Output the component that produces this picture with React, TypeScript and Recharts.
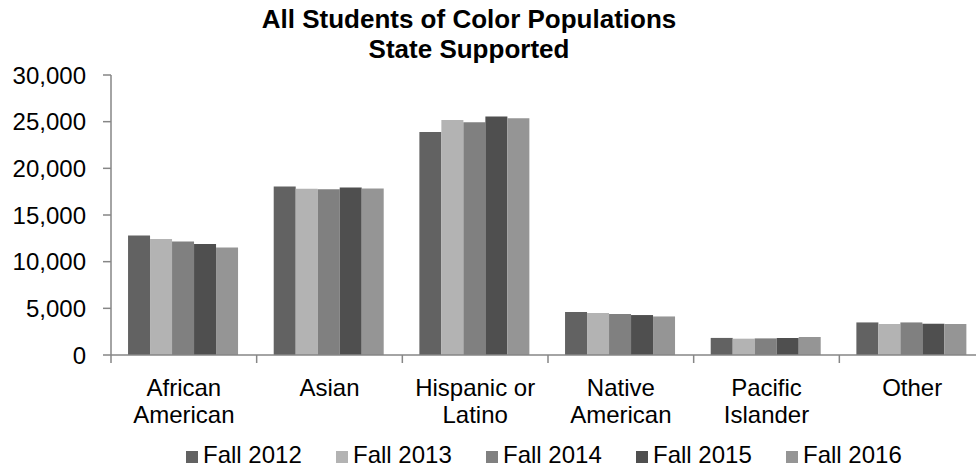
import React from 'react';
import { BarChart, Bar, XAxis, YAxis, Legend } from 'recharts';

const categories = ['African American', 'Asian', 'Hispanic or Latino', 'Native American', 'Pacific Islander', 'Other'];
// how each category label wraps under the axis
const tickLines = [['African', 'American'], ['Asian'], ['Hispanic or', 'Latino'], ['Native', 'American'], ['Pacific', 'Islander'], ['Other']];

const fall2012 = [12800, 18050, 23900, 4600, 1830, 3490];
const fall2013 = [12420, 17800, 25190, 4500, 1750, 3320];
const fall2014 = [12160, 17770, 24950, 4390, 1780, 3490];
const fall2015 = [11880, 17940, 25550, 4280, 1820, 3350];
const fall2016 = [11520, 17840, 25370, 4130, 1930, 3320];

const yTicks = [0, 5000, 10000, 15000, 20000, 25000, 30000];

const series = [
  { key: 'f2012', name: 'Fall 2012', values: fall2012, color: '#626262' },
  { key: 'f2013', name: 'Fall 2013', values: fall2013, color: '#b3b3b3' },
  { key: 'f2014', name: 'Fall 2014', values: fall2014, color: '#808080' },
  { key: 'f2015', name: 'Fall 2015', values: fall2015, color: '#4f4f4f' },
  { key: 'f2016', name: 'Fall 2016', values: fall2016, color: '#959595' },
];

const data = categories.map((name, i) => {
  const row: Record<string, string | number> = { name };
  series.forEach(s => { row[s.key] = s.values[i]; });
  return row;
});

const FONT = '"Liberation Sans", Arial, sans-serif';
const AXIS = '#868686';
const CHART_W = 1000;
const CHART_H = 470;
const MARGIN = { top: 75, right: 15, left: 0, bottom: 0 };
const Y_W = 111;
const BAND = (CHART_W - MARGIN.left - MARGIN.right - Y_W) / categories.length;

function CategoryTick(props: any) {
  const { x, y, index } = props;
  const lines = tickLines[index] || [];
  const half = BAND / 2;
  return (
    <g>
      <line x1={x - half} x2={x - half} y1={y - 8} y2={y} stroke={AXIS} strokeWidth={1.5} />
      {index === categories.length - 1 && (
        <line x1={x + half} x2={x + half} y1={y - 8} y2={y} stroke={AXIS} strokeWidth={1.5} />
      )}
      <text x={x} y={y} textAnchor="middle" fontSize={24} fill="#000" fontFamily={FONT}>
        {lines.map((l, i) => (
          <tspan key={i} x={x} dy={i === 0 ? 33 : 27}>{l}</tspan>
        ))}
      </text>
    </g>
  );
}

function LegendContent(props: any) {
  const items = props.payload || [];
  return (
    <div style={{ display: 'flex', height: 30, alignItems: 'center', paddingLeft: 186, fontFamily: FONT }}>
      {items.map((it: any, i: number) => (
        <div key={i} style={{ display: 'flex', alignItems: 'center', width: i < items.length - 1 ? 150 : 'auto' }}>
          <span style={{ width: 12, height: 12, background: it.color, marginRight: 5, marginTop: 4 }} />
          <span style={{ fontSize: 24, color: '#000', lineHeight: '30px' }}>{it.value}</span>
        </div>
      ))}
    </div>
  );
}

export default function App() {
  return (
    <div style={{ position: 'fixed', left: 0, top: 0, width: 976, height: 470, overflow: 'hidden', background: '#fff', fontFamily: FONT }}>
      <div style={{ position: 'absolute', left: 0, top: 4, width: 938, textAlign: 'center', fontWeight: 'bold', fontSize: 26, lineHeight: '30px', color: '#000' }}>
        All Students of Color Populations<br />State Supported
      </div>
      <BarChart width={CHART_W} height={CHART_H} data={data} margin={MARGIN} barCategoryGap="11.7%" barGap={0}>
        <XAxis
          dataKey="name"
          height={85}
          axisLine={{ stroke: AXIS, strokeWidth: 1.5 }}
          tickLine={false}
          tickSize={8}
          tickMargin={0}
          interval={0}
          tick={<CategoryTick />}
        />
        <YAxis
          width={Y_W}
          domain={[0, 30000]}
          ticks={yTicks}
          interval={0}
          tickFormatter={(v: number) => v.toLocaleString('en-US')}
          tick={{ fontSize: 24, fill: '#000', fontFamily: FONT }}
          axisLine={{ stroke: AXIS, strokeWidth: 1.5 }}
          tickLine={{ stroke: AXIS, strokeWidth: 1.5 }}
          tickSize={8}
          tickMargin={17}
        />
        <Legend verticalAlign="bottom" height={30} content={<LegendContent />} wrapperStyle={{ left: 0, width: CHART_W, height: 30 }} />
        {series.map(s => (
          <Bar key={s.key} dataKey={s.key} name={s.name} fill={s.color} isAnimationActive={false} />
        ))}
      </BarChart>
    </div>
  );
}
